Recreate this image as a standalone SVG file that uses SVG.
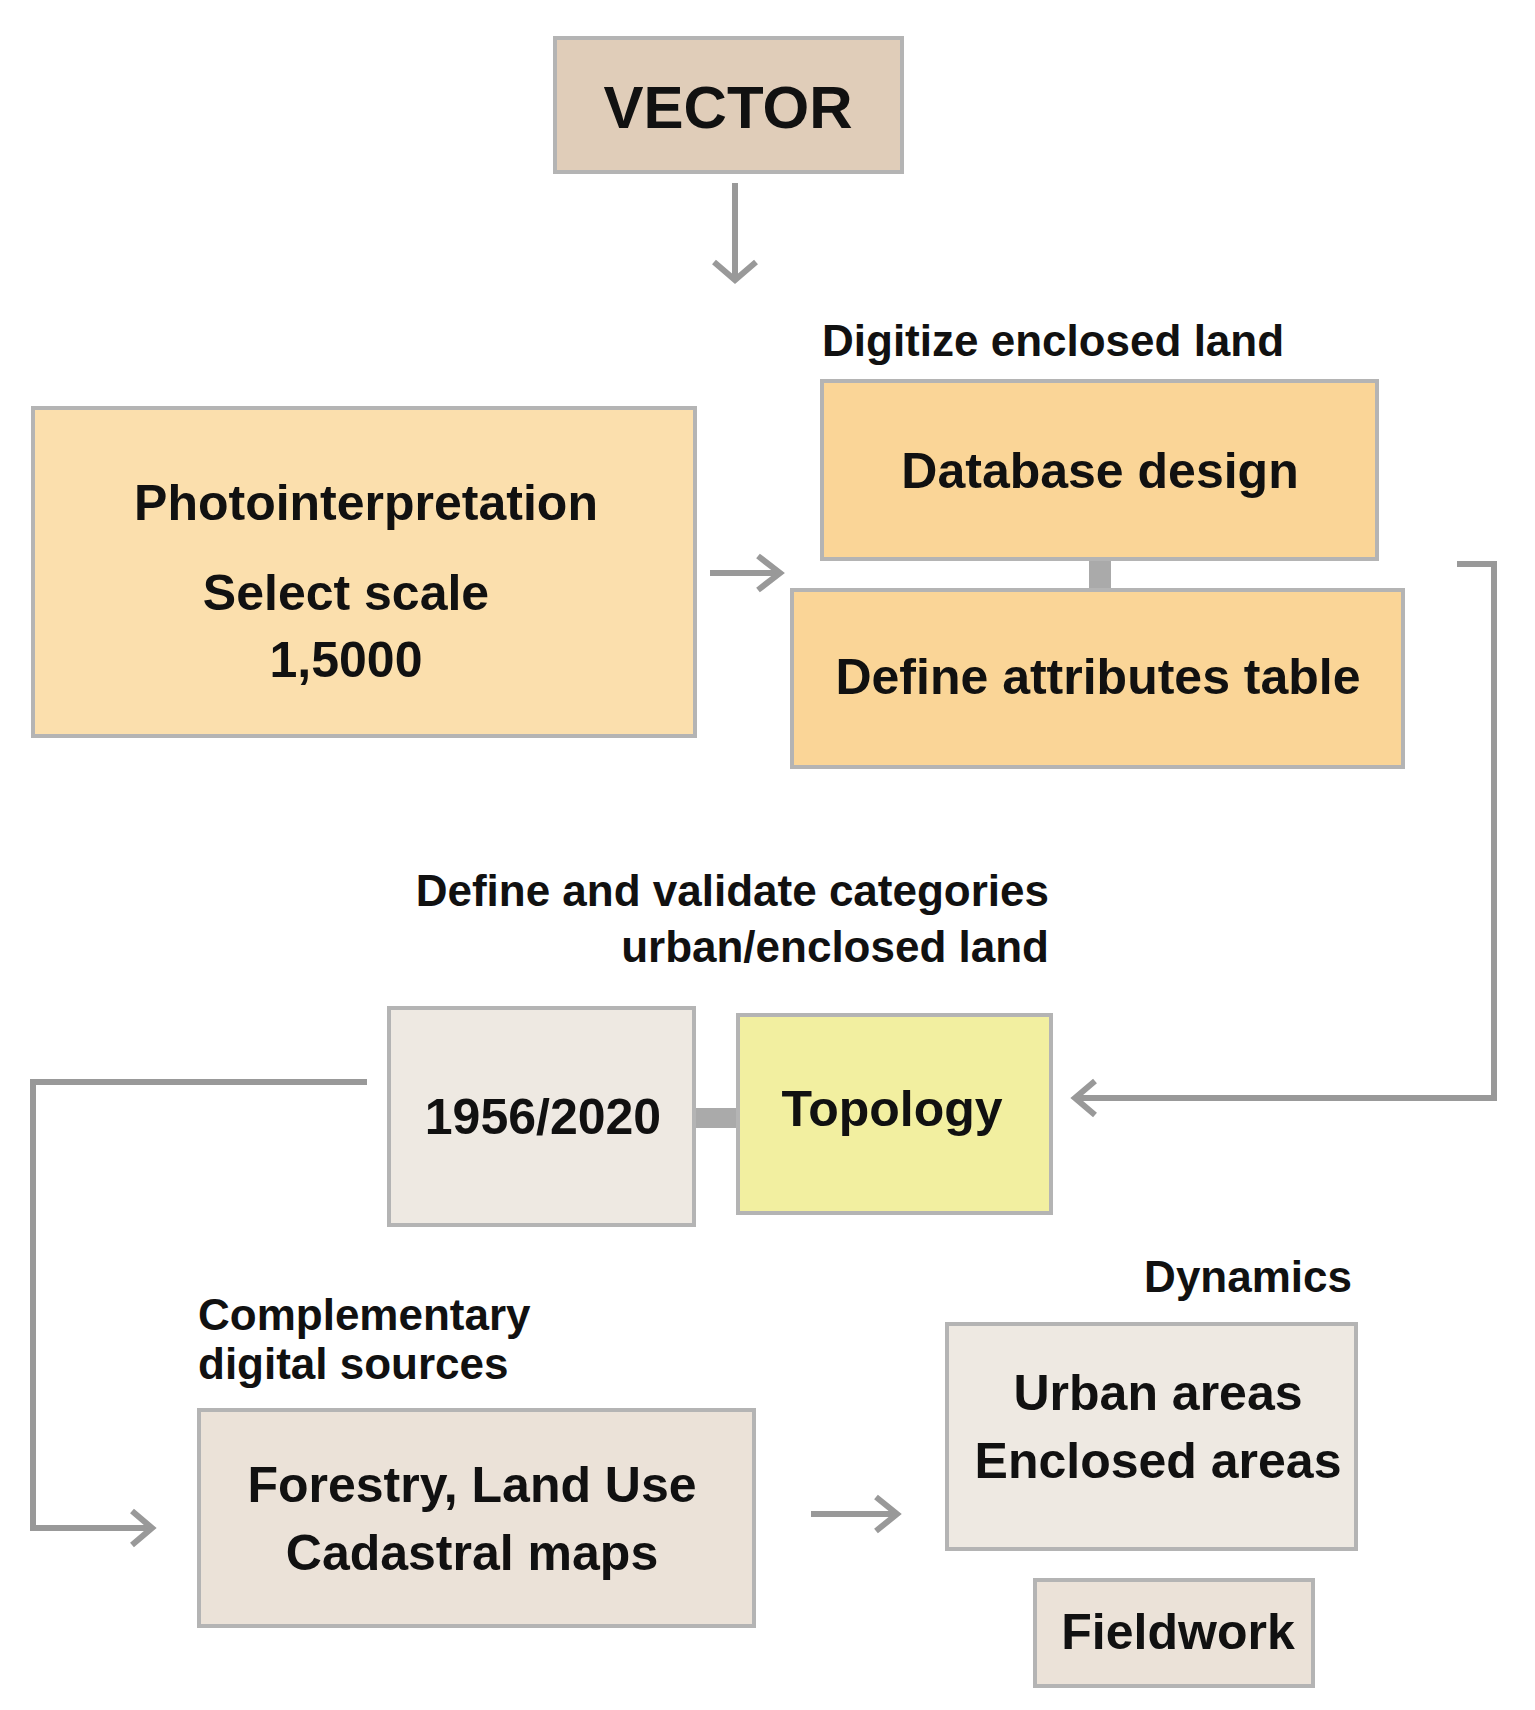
<svg xmlns="http://www.w3.org/2000/svg" width="1535" height="1710" viewBox="0 0 1535 1710">
<style>
text{font-family:"Liberation Sans Narrow","Liberation Sans",Arial,sans-serif;fill:#111;font-weight:bold}
.b{stroke:#b4b4b4;stroke-width:4}
.c{fill:none;stroke:#999;stroke-width:6}
.l{font-size:44px}
.m{font-size:50px;text-anchor:middle}
</style>
<defs><marker id="a" viewBox="0 0 10 10" refX="8" refY="5" markerWidth="4" markerHeight="4" orient="auto" markerUnits="userSpaceOnUse"><path d="M0,0 L9,5 L0,10" fill="none" stroke="#999" stroke-width="2.2"/></marker></defs>
<rect width="1535" height="1710" fill="#fff"/>
<g id="connectors">
<path class="c" d="M735,183 V276" marker-end="url(#a)" style="marker-end:none"/>
<path class="c" d="M714,262 L735,280 L756,262"/>
<path class="c" d="M710,573 H778"/><path class="c" d="M758,556 L780,573 L758,590"/>
<rect x="1089" y="559" width="22" height="31" fill="#aaa"/>
<path class="c" d="M1457,564 H1494 V1098 H1078"/><path class="c" d="M1095,1081 L1075,1098 L1095,1115"/>
<rect x="694" y="1108" width="44" height="20" fill="#aaa"/>
<path class="c" d="M367,1082 H33 V1528 H150"/><path class="c" d="M132,1511 L152,1528 L132,1545"/>
<path class="c" d="M811,1514 H895"/><path class="c" d="M876,1497 L897,1514 L876,1531"/>
</g>
<g id="vector"><rect class="b" x="555" y="38" width="347" height="134" fill="#e0cdb9"/><text x="728" y="128" font-size="60" text-anchor="middle">VECTOR</text></g>
<g id="photo"><rect class="b" x="33" y="408" width="662" height="328" fill="#fbdfad"/>
<text class="m" x="366" y="520">Photointerpretation</text><text class="m" x="346" y="610">Select scale</text><text class="m" x="346" y="677">1,5000</text></g>
<g id="digitize"><text class="l" x="822" y="356">Digitize enclosed land</text></g>
<g id="db"><rect class="b" x="822" y="381" width="555" height="178" fill="#fad597"/><text class="m" x="1100" y="488">Database design</text></g>
<g id="attr"><rect class="b" x="792" y="590" width="611" height="177" fill="#fad597"/><text class="m" x="1098" y="694">Define attributes table</text></g>
<g id="define"><text class="l" x="1049" y="906" text-anchor="end">Define and validate categories</text><text class="l" x="1049" y="962" text-anchor="end">urban/enclosed land</text></g>
<g id="years"><rect class="b" x="389" y="1008" width="305" height="217" fill="#eee9e2"/><text class="m" x="543" y="1134">1956/2020</text></g>
<g id="topology"><rect class="b" x="738" y="1015" width="313" height="198" fill="#f2efa0"/><text class="m" x="892" y="1126">Topology</text></g>
<g id="comp"><text class="l" x="198" y="1330">Complementary</text><text class="l" x="198" y="1379">digital sources</text></g>
<g id="forestry"><rect class="b" x="199" y="1410" width="555" height="216" fill="#ebe2d8"/><text class="m" x="472" y="1502">Forestry, Land Use</text><text class="m" x="472" y="1570">Cadastral maps</text></g>
<g id="dynamics"><text class="l" x="1352" y="1292" text-anchor="end">Dynamics</text></g>
<g id="urban"><rect class="b" x="947" y="1324" width="409" height="225" fill="#eee9e2"/><text class="m" x="1158" y="1410">Urban areas</text><text class="m" x="1158" y="1478">Enclosed areas</text></g>
<g id="fieldwork"><rect class="b" x="1035" y="1580" width="278" height="106" fill="#ebe2d8"/><text class="m" x="1178" y="1649">Fieldwork</text></g>
</svg>
